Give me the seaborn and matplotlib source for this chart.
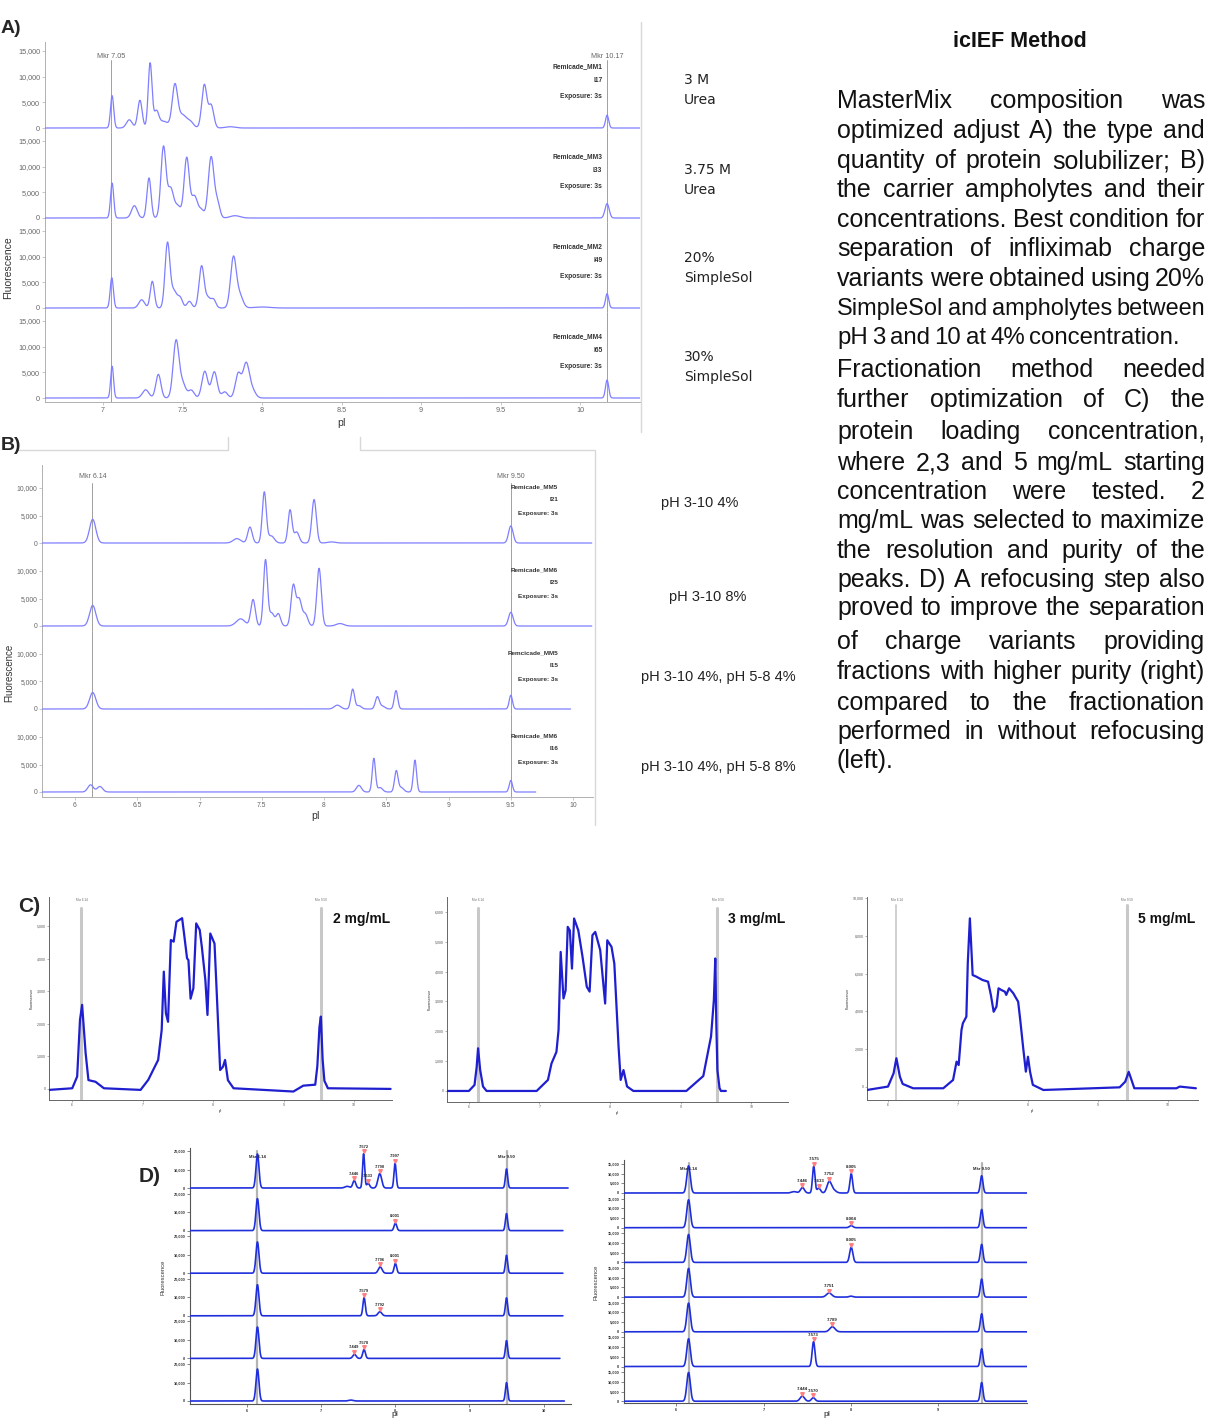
import matplotlib
matplotlib.use("Agg")
import numpy as np
import pandas as pd
import matplotlib.pyplot as plt
from matplotlib.lines import Line2D
from matplotlib.ticker import FuncFormatter
import seaborn as sns

W, H = 1226, 1419

# ==========================================
# Data
# peak tables are (pI, fluorescence height, peak sigma)
# ==========================================

# --- A) solubilizer screen ---
A_CONDITIONS = [("3 M", "Urea"), ("3.75 M", "Urea"), ("20%", "SimpleSol"), ("30%", "SimpleSol")]
A_SAMPLES = ["Remicade_MM1", "Remicade_MM3", "Remicade_MM2", "Remicade_MM4"]
A_INJECTIONS = ["I17", "I33", "I49", "I65"]
A_MARKERS = [7.05, 10.17]
A_XTICKS = [7, 7.5, 8, 8.5, 9, 9.5, 10]
A_YTICKS = [0, 5000, 10000, 15000]
A_MM1 = [(7.057, 6300, 0.010), (7.165, 1600, 0.018), (7.232, 5400, 0.014), (7.296, 12600, 0.012),
         (7.335, 3000, 0.015), (7.38, 1300, 0.03), (7.452, 8200, 0.017), (7.50, 2500, 0.025),
         (7.55, 1100, 0.02), (7.637, 8400, 0.016), (7.68, 4400, 0.016), (7.80, 250, 0.03),
         (10.17, 2500, 0.010)]
A_MM3 = [(7.057, 6800, 0.010), (7.197, 2400, 0.018), (7.289, 7800, 0.013), (7.38, 13800, 0.016),
         (7.425, 5600, 0.018), (7.47, 2300, 0.02), (7.526, 11600, 0.016), (7.575, 4300, 0.02),
         (7.62, 1400, 0.015), (7.68, 11900, 0.018), (7.72, 2800, 0.015), (7.83, 450, 0.03),
         (10.17, 2800, 0.013)]
A_MM2 = [(7.055, 5900, 0.010), (7.243, 1600, 0.018), (7.31, 5200, 0.013), (7.405, 12400, 0.015),
         (7.445, 3300, 0.02), (7.486, 1800, 0.015), (7.543, 1300, 0.015), (7.62, 8200, 0.016),
         (7.66, 1800, 0.015), (7.694, 1700, 0.015), (7.82, 9800, 0.018), (7.86, 2400, 0.02),
         (8.0, 200, 0.05), (10.17, 2800, 0.010)]
A_MM4 = [(7.057, 6200, 0.009), (7.268, 1600, 0.02), (7.348, 4600, 0.016), (7.459, 11000, 0.018),
         (7.50, 2800, 0.02), (7.555, 1500, 0.018), (7.64, 5200, 0.018), (7.70, 5100, 0.018),
         (7.765, 1200, 0.018), (7.85, 4700, 0.018), (7.90, 6700, 0.02), (7.94, 1400, 0.02),
         (10.17, 3500, 0.010)]
A_PEAKS = [A_MM1, A_MM3, A_MM2, A_MM4]

# --- B) carrier ampholyte screen ---
B_CONDITIONS = ["pH 3-10 4%", "pH 3-10 8%", "pH 3-10 4%, pH 5-8 4%", "pH 3-10 4%, pH 5-8 8%"]
B_SAMPLES = ["Remicade_MM5", "Remicade_MM6", "Remcicade_MM5", "Remicade_MM6"]
B_INJECTIONS = ["I21", "I25", "I15", "I16"]
B_MARKERS = [6.14, 9.50]
B_XTICKS = [6, 6.5, 7, 7.5, 8, 8.5, 9, 9.5, 10]
B_YTICKS = [0, 5000, 10000]
B_TRACE_END = [10.15, 10.15, 9.98, 9.70]
B_MM5 = [(6.142, 4300, 0.025), (7.30, 800, 0.03), (7.405, 2900, 0.018), (7.52, 9200, 0.016),
         (7.575, 1300, 0.025), (7.727, 6000, 0.016), (7.78, 2000, 0.02), (7.92, 7900, 0.018),
         (8.06, 200, 0.03), (9.5, 3100, 0.018)]
B_MM6 = [(6.142, 3750, 0.025), (7.33, 1300, 0.035), (7.43, 4800, 0.018), (7.53, 12000, 0.016),
         (7.58, 2300, 0.02), (7.633, 2200, 0.018), (7.753, 7300, 0.018), (7.80, 4800, 0.02),
         (7.85, 2100, 0.02), (7.96, 10500, 0.018), (8.128, 450, 0.03), (9.5, 2500, 0.018)]
B_MM5_58 = [(6.142, 3000, 0.025), (8.107, 700, 0.025), (8.23, 3600, 0.015), (8.28, 600, 0.02),
            (8.428, 2200, 0.016), (8.47, 500, 0.02), (8.578, 3350, 0.014), (9.5, 2500, 0.013)]
B_MM6_58 = [(6.125, 1300, 0.022), (6.20, 1000, 0.022), (8.28, 1200, 0.02), (8.40, 6100, 0.013),
            (8.45, 800, 0.02), (8.58, 3800, 0.014), (8.62, 800, 0.02), (8.73, 5800, 0.013),
            (9.5, 2100, 0.013)]
B_PEAKS = [B_MM5, B_MM6, B_MM5_58, B_MM6_58]

# --- C) protein loading (pI, fluorescence) ---
C_LOADS = ["2 mg/mL", "3 mg/mL", "5 mg/mL"]
C1_PI = [5.67, 6.0, 6.07, 6.11, 6.14, 6.19, 6.23, 6.33, 6.45, 6.97, 7.08, 7.16, 7.22, 7.27, 7.30,
         7.33, 7.36, 7.40, 7.44, 7.48, 7.56, 7.59, 7.63, 7.65, 7.68, 7.72, 7.76, 7.81, 7.84, 7.89,
         7.92, 7.96, 8.02, 8.05, 8.10, 8.14, 8.17, 8.21, 8.29, 9.14, 9.28, 9.45, 9.48, 9.51, 9.53,
         9.555, 9.58, 9.63, 10.52]
C1_FL = [-30, 20, 380, 2120, 2580, 1100, 270, 220, 20, -30, 280, 630, 890, 1810, 3600,
         2320, 2060, 4570, 4520, 5130, 5240, 4720, 4010, 3950, 2770, 3090, 5080, 4880, 4360, 3340,
         2270, 4770, 4460, 3030, 580, 680, 890, 270, 20, -80, 100, 130, 700, 1900, 2220,
         900, 250, 20, 0]
C2_PI = [5.70, 6.0, 6.08, 6.11, 6.13, 6.16, 6.20, 6.25, 6.96, 7.12, 7.17, 7.24, 7.27, 7.30, 7.34,
         7.37, 7.40, 7.43, 7.46, 7.49, 7.55, 7.61, 7.67, 7.71, 7.75, 7.79, 7.86, 7.93, 7.96, 8.02,
         8.06, 8.12, 8.15, 8.19, 8.24, 8.33, 9.08, 9.32, 9.43, 9.47, 9.49, 9.505, 9.52, 9.55, 9.57,
         9.64]
C2_FL = [0, 0, 200, 800, 1430, 700, 150, 0, 0, 370, 920, 1310, 2040, 4660, 3100,
         3370, 5500, 5380, 4100, 5780, 5380, 4490, 3490, 3330, 5220, 5330, 4720, 2930, 5050, 4830,
         4270, 1490, 370, 700, 150, 0, 0, 500, 1830, 3050, 4440, 2200, 700, 100, 0,
         0]
C3_PI = [5.70, 6.0, 6.08, 6.12, 6.17, 6.21, 6.36, 6.79, 6.93, 6.98, 7.01, 7.05, 7.07, 7.12, 7.14,
         7.17, 7.19, 7.21, 7.26, 7.35, 7.43, 7.47, 7.51, 7.55, 7.58, 7.62, 7.67, 7.69, 7.73, 7.79,
         7.86, 7.89, 7.93, 7.97, 8.00, 8.03, 8.07, 8.22, 9.31, 9.39, 9.44, 9.48, 9.52, 10.12, 10.17,
         10.40]
C3_FL = [-160, 20, 720, 1520, 545, 160, -70, -70, 370, 1340, 1160, 3010, 3370, 3720, 6540,
         8920, 7420, 5920, 5840, 5660, 5570, 4870, 3980, 4250, 5220, 5130, 5040, 4870, 5220, 4960,
         4510, 3540, 2130, 810, 1600, 810, 110, -160, -20, 280, 800, 370, -70, -70, 20,
         -70]
C_MARKERS = [[6.13, 9.53], [6.13, 9.52], [6.12, 9.42]]

# --- D) fractionation without (left) / with (right) refocusing ---
D_MARKERS = [6.14, 9.50]
DL_PEAKS = [
    [(6.14, 18400, 0.02), (7.35, 900, 0.03), (7.446, 4000, 0.02), (7.572, 18500, 0.014),
     (7.633, 2500, 0.02), (7.790, 7800, 0.025), (7.997, 13300, 0.015), (9.50, 10300, 0.015)],
    [(6.14, 17300, 0.02), (8.001, 4000, 0.018), (9.50, 9200, 0.015)],
    [(6.14, 16900, 0.02), (7.796, 3400, 0.025), (8.001, 5300, 0.017), (9.50, 9700, 0.015)],
    [(6.14, 16800, 0.02), (7.579, 9800, 0.016), (7.792, 2200, 0.025), (9.50, 9700, 0.015)],
    [(6.14, 17000, 0.02), (7.449, 2200, 0.022), (7.578, 4800, 0.018), (9.50, 9600, 0.015)],
    [(6.14, 17300, 0.02), (7.40, 500, 0.03), (9.50, 9900, 0.015)],
]
DL_LABELS = [[7.446, 7.572, 7.633, 7.790, 7.997], [8.001], [7.796, 8.001], [7.579, 7.792],
             [7.449, 7.578], []]
DL_TRACE_END = [10.33, 10.26, 10.26, 10.26, 10.22, 10.28]
DR_PEAKS = [
    [(6.14, 14000, 0.02), (7.35, 700, 0.03), (7.446, 2800, 0.022), (7.575, 13800, 0.014),
     (7.633, 2500, 0.02), (7.752, 5600, 0.025), (7.80, 1500, 0.03), (8.005, 10000, 0.015),
     (9.50, 8900, 0.015)],
    [(6.14, 14400, 0.02), (8.004, 1100, 0.02), (9.50, 9400, 0.015)],
    [(6.14, 14400, 0.02), (8.005, 7800, 0.018), (9.50, 9300, 0.015)],
    [(6.14, 14800, 0.02), (7.751, 2100, 0.03), (8.0, 500, 0.02), (9.50, 9300, 0.015)],
    [(6.14, 14800, 0.02), (7.789, 2600, 0.03), (9.50, 9300, 0.015)],
    [(6.14, 14300, 0.02), (7.573, 12800, 0.016), (9.50, 9100, 0.015)],
    [(6.14, 14800, 0.02), (7.444, 2600, 0.025), (7.570, 1800, 0.02), (9.50, 9600, 0.015)],
]
DR_LABELS = [[7.446, 7.575, 7.633, 7.752, 8.005], [8.004], [8.005], [7.751], [7.789], [7.573],
             [7.444, 7.570]]

TITLE = "icIEF Method"
PARAGRAPH = [
    "MasterMix composition was",
    "optimized adjust A) the type and",
    "quantity of protein solubilizer; B)",
    "the carrier ampholytes and their",
    "concentrations. Best condition for",
    "separation of infliximab charge",
    "variants were obtained using 20%",
    "SimpleSol and ampholytes between",
    "pH 3 and 10 at 4% concentration.",
    "Fractionation method needed",
    "further optimization of C) the",
    "protein loading concentration,",
    "where 2,3 and 5 mg/mL starting",
    "concentration were tested. 2",
    "mg/mL was selected to maximize",
    "the resolution and purity of the",
    "peaks. D) A refocusing step also",
    "proved to improve the separation",
    "of charge variants providing",
    "fractions with higher purity (right)",
    "compared to the fractionation",
    "performed in without refocusing",
    "(left).",
]

# ==========================================
# Helpers
# ==========================================

sns.set_theme(style="ticks")
plt.rcParams["font.family"] = ["Liberation Sans", "DejaVu Sans"]

fig = plt.figure(figsize=(W / 100, H / 100), dpi=100)
fig.patch.set_facecolor("white")
renderer = fig.canvas.get_renderer()


def fx(x):
    return x / W


def fy(y):
    return 1 - y / H


def ptext(x, y, s, **kw):
    return fig.text(fx(x), fy(y), s, **kw)


def fline(xs, ys, **kw):
    fig.add_artist(Line2D([fx(v) for v in xs], [fy(v) for v in ys], **kw))


def px_axes(left, top, right, bottom):
    ax = fig.add_axes([fx(left), fy(bottom), (right - left) / W, (bottom - top) / H])
    ax.set_facecolor("none")
    return ax


def gauss_sum(peaks, x):
    x = np.asarray(x, dtype=float)
    y = np.zeros_like(x)
    for c, h, s in peaks:
        y = y + h * np.exp(-0.5 * ((x - c) / s) ** 2)
    return y


def peak_frame(peaks, lo, hi, n=2200):
    x = np.linspace(lo, hi, n)
    return pd.DataFrame({"pI": x, "fl": gauss_sum(peaks, x)})


def style_row(ax, xlim, ylim, yticks, last, xticks, size, tcolor, scolor, bold=False, lw=0.7):
    ax.set_xlim(*xlim)
    ax.set_ylim(*ylim)
    ax.set_xlabel("")
    ax.set_ylabel("")
    for s in ["top", "right"]:
        ax.spines[s].set_visible(False)
    ax.spines["left"].set_color(scolor)
    ax.spines["left"].set_linewidth(lw)
    ax.set_yticks(yticks)
    ax.yaxis.set_major_formatter(FuncFormatter(lambda v, p: f"{v:,.0f}"))
    ax.tick_params(axis="both", length=2, width=0.5, color=scolor, labelsize=size,
                   labelcolor=tcolor, pad=1.5)
    weight = "bold" if bold else "normal"
    for lab in ax.get_yticklabels():
        lab.set_fontweight(weight)
    if last:
        ax.set_xticks(xticks)
        ax.xaxis.set_major_formatter(FuncFormatter(lambda v, p: f"{v:g}"))
        ax.spines["bottom"].set_color(scolor)
        ax.spines["bottom"].set_linewidth(lw)
        for lab in ax.get_xticklabels():
            lab.set_fontweight(weight)
    else:
        ax.spines["bottom"].set_visible(False)
        ax.tick_params(axis="x", bottom=False, labelbottom=False)


def fit_text(x, y, s, width, size=16, ha="left", **kw):
    t = ptext(x, y, s, fontsize=size, ha=ha, va="baseline", **kw)
    w = t.get_window_extent(renderer).width
    t.set_fontsize(size * width / w)
    return t


def justified(line, x0, x1, y, size):
    words = line.split()
    while True:
        objs = [ptext(x0, y, w, fontsize=size, va="baseline", color="#111111") for w in words]
        widths = [o.get_window_extent(renderer).width for o in objs]
        min_gap = 0.15 * size * 100 / 72
        if x1 is None or len(words) == 1 or sum(widths) + min_gap * (len(words) - 1) <= x1 - x0:
            break
        for o in objs:
            o.remove()
        size *= 0.98
    if x1 is None or len(words) == 1:
        gap = 0.27 * size * 100 / 72
    else:
        gap = (x1 - x0 - sum(widths)) / (len(words) - 1)
    x = x0
    for o, w in zip(objs, widths):
        o.set_x(fx(x))
        x += w + gap


# ==========================================
# A) stacked electropherograms
# ==========================================
A_ZERO = [128, 218, 308, 398]
A_PPU = 77 / 15000
A_YLIM = (-800, 16770)
A_XLIM = (6.635, 10.377)
A_COLOR = "#7f7fff"
for i, peaks in enumerate(A_PEAKS):
    ax = px_axes(45, A_ZERO[i] - A_YLIM[1] * A_PPU, 640, A_ZERO[i] - A_YLIM[0] * A_PPU)
    top = (13250 - A_YLIM[0]) / (A_YLIM[1] - A_YLIM[0]) if i == 0 else 1
    for m in A_MARKERS:
        ax.axvline(m, ymax=top, color="#a0a0a0", lw=0.7, zorder=1)
    sns.lineplot(data=peak_frame(peaks, *A_XLIM), x="pI", y="fl", ax=ax, color=A_COLOR,
                 lw=0.9, estimator=None, zorder=3)
    style_row(ax, A_XLIM, A_YLIM, A_YTICKS, i == 3, A_XTICKS, 5.2, "#666666", "#b0b0b0")
    for yv, s in zip([12000, 9200, 6200], [A_SAMPLES[i], A_INJECTIONS[i], "Exposure: 3s"]):
        ax.text(10.14, yv, s, ha="right", va="center", fontsize=4.8, fontweight="bold",
                color="#333333")
    if i == 0:
        for m in A_MARKERS:
            ax.text(m, 14000, f"Mkr {m:.2f}", ha="center", va="center", fontsize=5.2,
                    color="#666666")

for (l1, l2), (y1, y2) in zip(A_CONDITIONS, [(80, 100), (170, 190), (258, 278), (357, 377)]):
    ptext(684, y1, l1, fontsize=10, va="center", color="#222222", family="DejaVu Sans")
    ptext(684, y2, l2, fontsize=10, va="center", color="#222222", family="DejaVu Sans")
ptext(8, 268, "Fluorescence", rotation=90, fontsize=7.5, ha="center", va="center", color="#333333")
ptext(342, 423, "pI", fontsize=7.5, ha="center", va="center", color="#333333")
ptext(1, 33, "A)", fontsize=14, fontweight="bold", va="baseline")
fline([641, 641], [22, 432], color="#d8d8d8", lw=1)

# ==========================================
# B) carrier ampholytes
# ==========================================
B_ZERO = [543, 626, 709, 792]
B_PPU = 5.5 / 1000
B_YLIM = (-910, 14180)
B_XLIM = (5.735, 10.16)
for i, peaks in enumerate(B_PEAKS):
    ax = px_axes(42, B_ZERO[i] - B_YLIM[1] * B_PPU, 593, B_ZERO[i] - B_YLIM[0] * B_PPU)
    top = (10900 - B_YLIM[0]) / (B_YLIM[1] - B_YLIM[0]) if i == 0 else 1
    for m in B_MARKERS:
        ax.axvline(m, ymax=top, color="#a0a0a0", lw=0.7, zorder=1)
    sns.lineplot(data=peak_frame(peaks, B_XLIM[0], B_TRACE_END[i]), x="pI", y="fl", ax=ax,
                 color=A_COLOR, lw=0.9, estimator=None, zorder=3)
    style_row(ax, B_XLIM, B_YLIM, B_YTICKS, i == 3, B_XTICKS, 4.9, "#666666", "#b0b0b0")
    for yv, s in zip([10180, 7820, 5450], [B_SAMPLES[i], B_INJECTIONS[i], "Exposure: 3s"]):
        ax.text(9.88, yv, s, ha="right", va="center", fontsize=4.6, fontweight="bold",
                color="#333333")
    if i == 0:
        for m in B_MARKERS:
            ax.text(m, 12000, f"Mkr {m:.2f}", ha="center", va="center", fontsize=5,
                    color="#666666")

for s, (x, y) in zip(B_CONDITIONS, [(700, 503), (708, 597), (718, 677), (718, 767)]):
    ptext(x, y, s, fontsize=10.5, ha="center", va="center", color="#222222")
ptext(9, 673, "Fluorescence", rotation=90, fontsize=7, ha="center", va="center", color="#333333")
ptext(316, 816, "pI", fontsize=7.5, ha="center", va="center", color="#333333")
ptext(1, 450, "B)", fontsize=14, fontweight="bold", va="baseline")
fline([17, 228, 228], [450, 450, 437], color="#d8d8d8", lw=1)
fline([360, 360, 595, 595], [437, 450, 450, 825], color="#d8d8d8", lw=1)

# ==========================================
# Right-hand description
# ==========================================
fit_text(1020, 47, TITLE, 134, size=16, ha="center", fontweight="bold", color="#111111")
BASELINES = [108, 138, 168, 197, 227, 256, 286, 315, 344, 377, 407, 439, 470, 499, 528, 558,
             587, 615, 649, 679, 710, 739, 768]
RIGHT_EDGE = [1205] * 8 + [1180] + [1205] * 13 + [None]
for line, yb, xr in zip(PARAGRAPH, BASELINES, RIGHT_EDGE):
    justified(line, 837, xr, yb, 18)

# ==========================================
# C) loading concentration
# ==========================================
C_DATA = [(C1_PI, C1_FL), (C2_PI, C2_FL), (C3_PI, C3_FL)]
C_BOX = [(49, 897, 392, 1100), (447, 897, 788, 1102), (867, 897, 1198, 1100)]
C_XLIM = [(5.67, 10.54), (5.69, 10.52), (5.70, 10.43)]
C_YLIM = [(-340, 5890), (-370, 6500), (-690, 10050)]
C_YTICKS = [range(0, 6000, 1000), range(0, 7000, 1000), range(0, 12000, 2000)]
C_LINE_TOP = [908, 908, 905]
C_LABEL_X = [333, 728, 1138]
C_COLOR = "#1f1fcf"
for k, ((xs, ys), box) in enumerate(zip(C_DATA, C_BOX)):
    ax = px_axes(*box)
    ymax = (box[3] - C_LINE_TOP[k]) / (box[3] - box[1])
    for j, m in enumerate(C_MARKERS[k]):
        ax.axvline(m, ymax=ymax, color="#c8c8c8", lw=2.2 if j or k < 2 else 1.2, zorder=1)
        ax.text(m, C_YLIM[k][1] * 0.985, f"Mkr {D_MARKERS[j]:.2f}", ha="center", va="center",
                fontsize=2.2, color="#666666")
    df = pd.DataFrame({"pI": xs, "fl": ys})
    sns.lineplot(data=df, x="pI", y="fl", ax=ax, color=C_COLOR, lw=1.6, estimator=None,
                 sort=False, zorder=3)
    ax.set_xlim(*C_XLIM[k])
    ax.set_ylim(*C_YLIM[k])
    ax.set_xlabel("pI", fontsize=3, labelpad=1)
    ax.set_ylabel("Fluorescence", fontsize=2.5, labelpad=2)
    ax.set_xticks([6, 7, 8, 9, 10])
    ax.set_yticks(list(C_YTICKS[k]))
    ax.xaxis.set_major_formatter(FuncFormatter(lambda v, p: f"{v:g}"))
    ax.yaxis.set_major_formatter(FuncFormatter(lambda v, p: f"{v:,.0f}"))
    ax.tick_params(axis="both", length=1.5, width=0.4, labelsize=2.5, labelcolor="#555555",
                   color="#777777", pad=1)
    for s in ["top", "right"]:
        ax.spines[s].set_visible(False)
    for s in ["left", "bottom"]:
        ax.spines[s].set_color("#666666")
        ax.spines[s].set_linewidth(0.7)
    fit_text(C_LABEL_X[k], 923, C_LOADS[k], 57, size=11, fontweight="bold", color="#111111")
ptext(18, 912, "C)", fontsize=15, fontweight="bold", va="baseline")

# ==========================================
# D) fractionation, with and without refocusing
# ==========================================
D_COLOR = "#1f2fdc"


def draw_fractions(peak_rows, label_rows, left, right, zero0, step, ppu, ylim, xlim, yticks,
                   xticks, ends, mkr_y, tick_size, lab_size):
    n = len(peak_rows)
    for i, peaks in enumerate(peak_rows):
        z = zero0 + i * step
        ax = px_axes(left, z - ylim[1] * ppu, right, z - ylim[0] * ppu)
        for m in D_MARKERS:
            ax.axvline(m, ymax=0.93 if i == 0 else 1, color="#b4b4b4", lw=1.6, zorder=1)
        end = ends[i] if ends else xlim[1]
        sns.lineplot(data=peak_frame(peaks, xlim[0], end), x="pI", y="fl", ax=ax, color=D_COLOR,
                     lw=1.2, estimator=None, zorder=3)
        style_row(ax, xlim, ylim, yticks, i == n - 1, xticks, tick_size, "#333333", "#555555",
                  bold=True, lw=0.8)
        for p in label_rows[i]:
            apex = float(gauss_sum(peaks, [p])[0])
            ax.plot([p], [apex + 2.5 / ppu], marker="v", ms=2.6, color="#ff8080", mec="#ff8080",
                    clip_on=False, zorder=4)
            ax.text(p, apex + 5 / ppu, f"{p:.3f}", ha="center", va="bottom", fontsize=lab_size,
                    fontweight="bold", color="#222222", clip_on=False, zorder=5)
        if i == 0:
            for m in D_MARKERS:
                ax.text(m, mkr_y, f"Mkr {m:.2f}", ha="center", va="center", fontsize=3.1,
                        fontweight="bold", color="#222222", zorder=5)


draw_fractions(DL_PEAKS, DL_LABELS, 190, 571, 1188, 42.6, 18.5 / 10000, (-1620, 21400),
               (5.23, 10.37), [0, 10000, 20000], [6, 7, 8, 9, 10], DL_TRACE_END, 16800, 2.8, 2.9)
draw_fractions(DR_PEAKS, DR_LABELS, 624, 1027, 1193, 34.7, 9.7 / 5000, (-1030, 16860),
               (5.40, 10.02), [0, 5000, 10000, 15000], [6, 7, 8, 9], None, 12400, 2.8, 3.2)

ptext(163, 1277, "Fluorescence", rotation=90, fontsize=4.2, ha="center", va="center",
      color="#333333")
ptext(596, 1282, "Fluorescence", rotation=90, fontsize=4.2, ha="center", va="center",
      color="#333333")
ptext(395, 1415, "pI", fontsize=6, ha="center", va="center", color="#222222")
ptext(827, 1414, "pI", fontsize=6, ha="center", va="center", color="#222222")
ptext(139, 1182, "D)", fontsize=15, fontweight="bold", va="baseline")

fig.savefig("out.png", dpi=100, facecolor="white")
